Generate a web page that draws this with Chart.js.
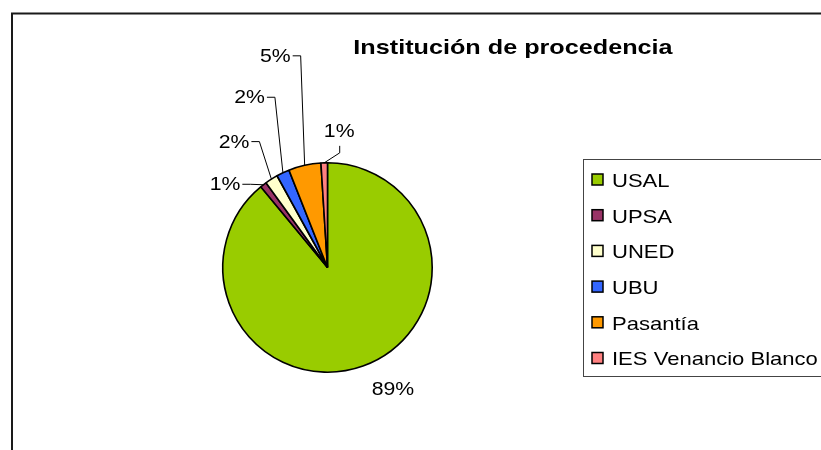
<!DOCTYPE html>
<html lang="es">
<head>
    <meta charset="UTF-8">
    <title>Institución de procedencia</title>
    <script src="https://cdn.jsdelivr.net/npm/chart.js"></script>
    <style>
        body { margin: 0; background: #fff; }
        #wrap { width: 821px; height: 450px; }
    </style>
</head>
<body>
    <div id="wrap">
        <canvas id="pieChart" width="821" height="450"></canvas>
    </div>

    <script>
        // data (percent of total)
        const categories = ['USAL', 'UPSA', 'UNED', 'UBU', 'Pasantía', 'IES Venancio Blanco'];
        const percentValues = [89, 1, 2, 2, 5, 1];
        const sliceColors = ['#99CC00', '#993366', '#FFFFCC', '#3366FF', '#FF9900', '#FF8080'];

        // where each percent label sits, relative to the middle of its slice edge
        const labelOffsets = [[30, 22], [-21, -1], [-20, -38], [-16, -76], [-12, -110], [15, -17]];
        const labelKinds = ['free', 'left', 'left', 'left', 'left', 'up'];

        const FONT = '"Liberation Sans", Arial, sans-serif';
        const STRETCH = 1.18; // the original text is drawn a bit wide

        function wideText(ctx, text, x, y, align, font, sx) {
            ctx.save();
            ctx.font = font;
            ctx.textBaseline = 'alphabetic';
            const w = ctx.measureText(text).width * sx;
            let left = x;
            if (align === 'center') left = x - w / 2;
            if (align === 'right') left = x - w;
            ctx.translate(left, y);
            ctx.scale(sx, 1);
            ctx.textAlign = 'left';
            ctx.fillStyle = '#000';
            ctx.fillText(text, 0, 0);
            ctx.restore();
        }

        const frameAndText = {
            id: 'frameAndText',
            beforeDraw(chart) {
                const ctx = chart.ctx;
                ctx.save();
                ctx.fillStyle = '#fff';
                ctx.fillRect(0, 0, chart.width, chart.height);
                // chart area border (top and left edges are visible)
                ctx.strokeStyle = '#1a1a1a';
                ctx.lineWidth = 2;
                ctx.beginPath();
                ctx.moveTo(12, chart.height);
                ctx.lineTo(12, 13.5);
                ctx.lineTo(chart.width, 13.5);
                ctx.stroke();
                ctx.restore();
            },
            afterDatasetsDraw(chart) {
                const ctx = chart.ctx;
                const arcs = chart.getDatasetMeta(0).data;
                const data = chart.data.datasets[0].data;
                const total = data.reduce((a, b) => a + b, 0);

                // title
                wideText(ctx, 'Institución de procedencia', 513, 54, 'center', 'bold 21px ' + FONT, 1.2);

                // percent labels with leader lines
                ctx.save();
                ctx.strokeStyle = '#000';
                ctx.lineWidth = 1;
                arcs.forEach((arc, i) => {
                    const mid = (arc.startAngle + arc.endAngle) / 2;
                    const px = arc.x + Math.cos(mid) * arc.outerRadius;
                    const py = arc.y + Math.sin(mid) * arc.outerRadius;
                    const ax = px + labelOffsets[i][0];
                    const ay = py + labelOffsets[i][1];
                    const txt = Math.round(data[i] / total * 100) + '%';
                    const base = 6.5; // half cap height at 18px

                    if (labelKinds[i] === 'free') {
                        wideText(ctx, txt, ax, ay + base, 'center', '18px ' + FONT, STRETCH);
                    } else if (labelKinds[i] === 'left') {
                        ctx.beginPath();
                        ctx.moveTo(ax, ay + 0.5);
                        ctx.lineTo(ax + 8, ay + 0.5);
                        ctx.lineTo(px, py);
                        ctx.stroke();
                        wideText(ctx, txt, ax - 2, ay + base, 'right', '18px ' + FONT, STRETCH);
                    } else {
                        ctx.beginPath();
                        ctx.moveTo(ax + 0.5, ay);
                        ctx.lineTo(ax + 0.5, ay + 7);
                        ctx.lineTo(px, py);
                        ctx.stroke();
                        wideText(ctx, txt, ax, ay - 9, 'center', '18px ' + FONT, STRETCH);
                    }
                });
                ctx.restore();

                // legend box
                ctx.save();
                ctx.strokeStyle = '#444';
                ctx.lineWidth = 1;
                ctx.strokeRect(583.5, 159.5, 300, 217);
                chart.data.labels.forEach((lbl, i) => {
                    const cy = 180 + i * 35.7;
                    ctx.fillStyle = sliceColors[i];
                    ctx.fillRect(592, cy - 6, 11, 11);
                    ctx.strokeStyle = '#000';
                    ctx.lineWidth = 1.5;
                    ctx.strokeRect(592, cy - 6, 11, 11);
                    wideText(ctx, lbl, 612, cy + 6.8, 'left', '19px ' + FONT, 1.16);
                });
                ctx.restore();
            }
        };

        new Chart(document.getElementById('pieChart').getContext('2d'), {
            type: 'pie',
            data: {
                labels: categories,
                datasets: [{
                    data: percentValues,
                    backgroundColor: sliceColors,
                    borderColor: '#000',
                    borderWidth: 1.6
                }]
            },
            options: {
                responsive: false,
                animation: false,
                layout: {
                    padding: { left: 222, right: 388, top: 162, bottom: 77 }
                },
                plugins: {
                    legend: { display: false },
                    title: { display: false },
                    tooltip: { enabled: false }
                }
            },
            plugins: [frameAndText]
        });
    </script>
</body>
</html>
